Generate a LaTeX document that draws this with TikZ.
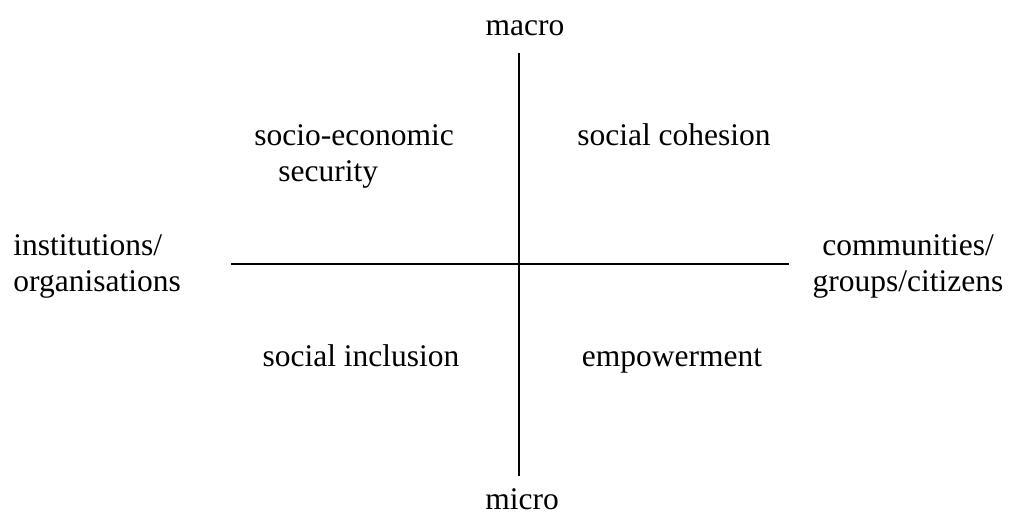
\documentclass[tikz,border=0pt]{standalone}
\usepackage{fontspec}
\setmainfont{Liberation Serif}
\usetikzlibrary{calc}
\begin{document}
\begin{tikzpicture}[x=0.5pt,y=-0.5pt]
       \tikzstyle{word} = [font=\fontsize{15.75}{18}\selectfont, inner sep=0pt, anchor=base];
       \tikzstyle{axis} = [line width=0.85pt];
       \useasboundingbox (0,0) rectangle (1011,515);
       % axes
       \coordinate (top) at (519,53);
       \coordinate (bottom) at (519,476);
       \coordinate (left) at (231,264);
       \coordinate (right) at (789,264);
       \draw[axis] (top) -- (bottom);
       \draw[axis] (left) -- (right);
       % ends of the axes
       \node[word] (macro) at (525,35) {macro};
       \node[word] (micro) at (522,509) {micro};
       \node[word, anchor=base west, align=left] (inst) at (13,291) {institutions/\\organisations};
       \node[word, align=center] (comm) at (908,291) {communities/\\groups/citizens};
       % quadrants
       \node[word, anchor=base west, align=left] (security) at (254,181) {socio-economic\\\hspace*{12pt}security};
       \node[word] (cohesion) at (674,145) {social cohesion};
       \node[word] (inclusion) at (361,366) {social inclusion};
       \node[word] (empower) at (672,366) {empowerment};
\end{tikzpicture}
\end{document}
